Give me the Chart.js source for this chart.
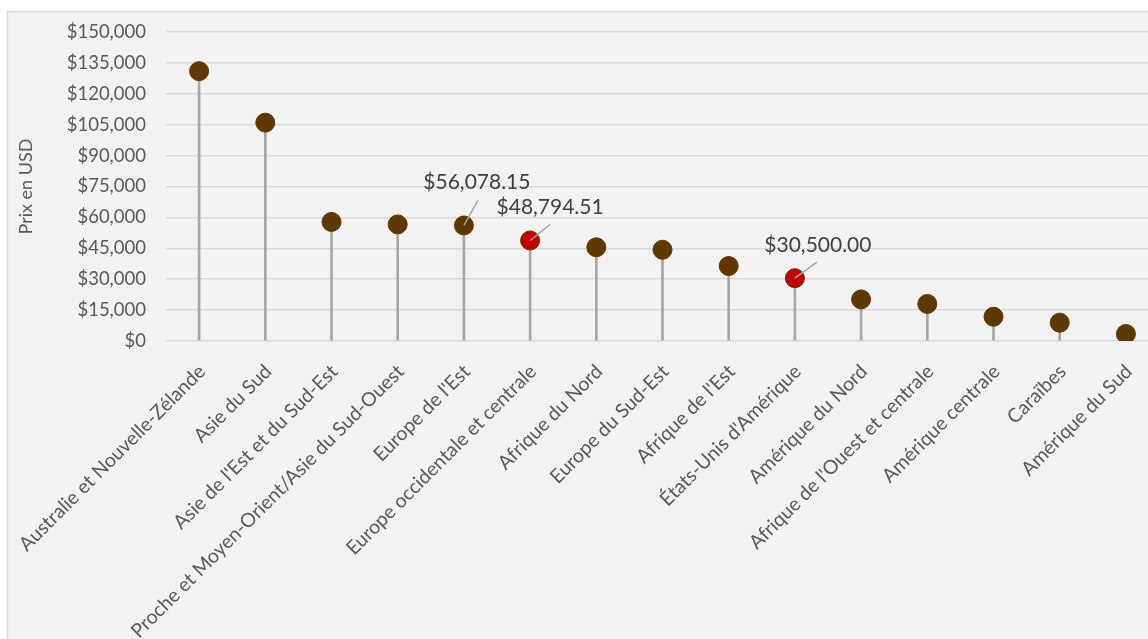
<!DOCTYPE html>
<html lang="fr">
<head>
<meta charset="utf-8">
<title>Prix en USD par région</title>
<script src="https://cdn.jsdelivr.net/npm/chart.js@4.4.1/dist/chart.umd.min.js"></script>
<style>
  html, body { margin: 0; padding: 0; background: #ffffff; overflow: hidden; }
  canvas { display: block; }
</style>
</head>
<body>
<canvas id="graphique" width="1170" height="639"></canvas>
<script>
// Régions, triées par prix décroissant
const regions = [
  'Australie et Nouvelle-Zélande',
  'Asie du Sud',
  "Asie de l'Est et du Sud-Est",
  'Proche et Moyen-Orient/Asie du Sud-Ouest',
  "Europe de l'Est",
  'Europe occidentale et centrale',
  'Afrique du Nord',
  'Europe du Sud-Est',
  "Afrique de l'Est",
  "États-Unis d'Amérique",
  'Amérique du Nord',
  "Afrique de l'Ouest et centrale",
  'Amérique centrale',
  'Caraïbes',
  'Amérique du Sud'
];
const prix = [131000, 106000, 57800, 56600, 56078.15, 48794.51, 45500, 44300, 36400, 30500, 20200, 18000, 11800, 8900, 3400];
const graduations = [0, 15000, 30000, 45000, 60000, 75000, 90000, 105000, 120000, 135000, 150000];
const enRouge = [5, 9];          // points mis en évidence
const avecValeur = [4, 5, 9];    // points avec étiquette de valeur

const MARRON = '#5e3800';
const ROUGE = '#c00000';
const GRIS_TIGE = '#a6a6a6';
const GRIS_GRILLE = '#d9d9d9';
const POLICE = 'Lato, "Noto Sans", sans-serif';

const formatDollar = (v, dec) =>
  '$' + v.toLocaleString('en-US', { minimumFractionDigits: dec, maximumFractionDigits: dec });

// Fond gris et bordure du cadre
const cadre = {
  id: 'cadre',
  beforeDraw(chart) {
    const ctx = chart.ctx;
    ctx.save();
    ctx.fillStyle = '#f2f2f2';
    ctx.fillRect(7, 11, chart.width, chart.height);
    ctx.strokeStyle = GRIS_GRILLE;
    ctx.lineWidth = 1.5;
    ctx.strokeRect(7.5, 11.5, chart.width, chart.height);
    ctx.restore();
  }
};

// Étiquettes de valeur avec trait de rappel
const decalages = { 4: [13, -43, 14, -25], 5: [20, -33, 20, -16], 9: [23, -33, 22, -16] };
const etiquettes = {
  id: 'etiquettes',
  afterDatasetsDraw(chart) {
    const ctx = chart.ctx;
    const meta = chart.getDatasetMeta(0);
    ctx.save();
    avecValeur.forEach(i => {
      const pt = meta.data[i];
      const [dx, dy, lx, ly] = decalages[i];
      ctx.strokeStyle = GRIS_TIGE;
      ctx.lineWidth = 1.5;
      ctx.beginPath();
      ctx.moveTo(pt.x, pt.y);
      ctx.lineTo(pt.x + lx, pt.y + ly);
      ctx.stroke();
      ctx.fillStyle = '#404040';
      ctx.font = '21px ' + POLICE;
      ctx.textAlign = 'center';
      ctx.textBaseline = 'middle';
      ctx.fillText(formatDollar(prix[i], 2), pt.x + dx, pt.y + dy);
    });
    ctx.restore();
  }
};

document.addEventListener('DOMContentLoaded', () => {
  const ctx = document.getElementById('graphique').getContext('2d');

  new Chart(ctx, {
    data: {
      labels: regions,
      datasets: [
        {
          type: 'line',
          data: prix,
          showLine: false,
          pointRadius: 9.5,
          pointHoverRadius: 9.5,
          pointBorderWidth: 1,
          pointBackgroundColor: prix.map((_, i) => enRouge.includes(i) ? ROUGE : MARRON),
          pointBorderColor: MARRON,
          order: 0
        },
        {
          type: 'bar',
          data: prix,
          backgroundColor: GRIS_TIGE,
          barThickness: 2,
          order: 1
        }
      ]
    },
    options: {
      responsive: false,
      animation: false,
      layout: { autoPadding: false, padding: { top: 32, right: 11, left: 0, bottom: 0 } },
      plugins: { legend: { display: false }, tooltip: { enabled: false } },
      scales: {
        x: {
          offset: true,
          grid: { display: false },
          border: { display: false },
          ticks: {
            autoSkip: false,
            minRotation: 45,
            maxRotation: 45,
            padding: 11,
            labelOffset: 3,
            color: '#595959',
            font: { family: POLICE, size: 19.5 }
          },
          afterFit: s => { s.height = 298; }
        },
        y: {
          min: 0,
          max: 150000,
          afterBuildTicks: s => { s.ticks = graduations.map(v => ({ value: v })); },
          grid: { color: GRIS_GRILLE, lineWidth: 1.5, drawTicks: false },
          border: { display: false },
          ticks: {
            padding: 20,
            color: '#595959',
            font: { family: POLICE, size: 18.5 },
            callback: v => formatDollar(v, 0)
          },
          title: {
            display: true,
            text: 'Prix en USD',
            color: '#595959',
            font: { family: POLICE, size: 18 },
            padding: { top: 15, bottom: 0 }
          },
          afterFit: s => { s.width = 166; }
        }
      }
    },
    plugins: [cadre, etiquettes]
  });
});
</script>
</body>
</html>
